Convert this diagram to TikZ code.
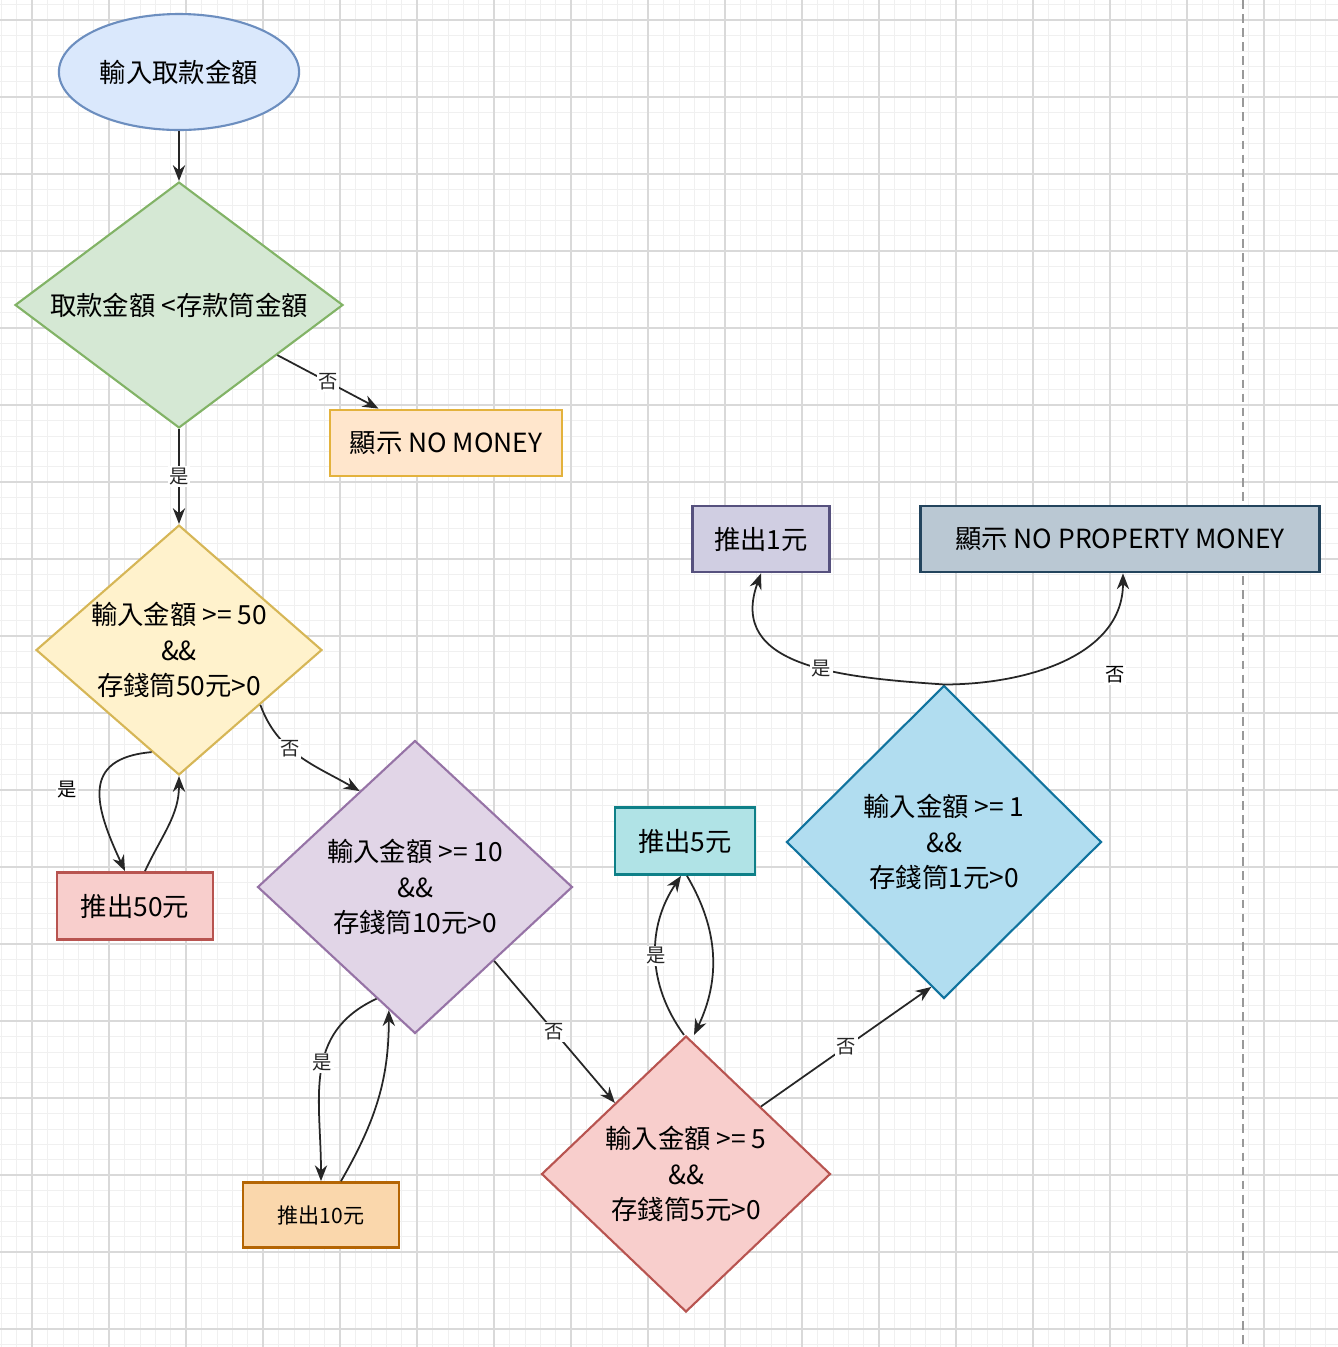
\documentclass[tikz,border=0pt]{standalone}
\usepackage{fontspec}
\setmainfont{Noto Sans CJK TC}
\usetikzlibrary{arrows.meta, positioning, shapes.geometric}
\definecolor{startfill}{HTML}{DAE8FC}
\definecolor{startline}{HTML}{6C8EBF}
\definecolor{greenfill}{HTML}{D5E8D4}
\definecolor{greenline}{HTML}{82B366}
\definecolor{yellowfill}{HTML}{FFF2CC}
\definecolor{yellowline}{HTML}{D6B656}
\definecolor{peachfill}{HTML}{FFE6CC}
\definecolor{goldline}{HTML}{E3B23C}
\definecolor{redfill}{HTML}{F8CECC}
\definecolor{redline}{HTML}{B85450}
\definecolor{purplefill}{HTML}{E1D5E7}
\definecolor{purpleline}{HTML}{9673A6}
\definecolor{orangefill}{HTML}{FAD7AC}
\definecolor{orangeline}{HTML}{B46504}
\definecolor{tealfill}{HTML}{B0E3E6}
\definecolor{tealline}{HTML}{0E8088}
\definecolor{bluefill}{HTML}{B1DDF0}
\definecolor{blueline}{HTML}{10739E}
\definecolor{lilacfill}{HTML}{D0CEE2}
\definecolor{lilacline}{HTML}{56517E}
\definecolor{slatefill}{HTML}{BAC8D3}
\definecolor{slateline}{HTML}{23445D}

\begin{document}
\begin{tikzpicture}[x=0.02cm, y=-0.02cm, >={Stealth[length=9pt, width=7pt]},
    procbox/.style={draw, rectangle, line width=1.6pt, font=\fontsize{15}{20}\selectfont},
    decision/.style={draw, diamond, line width=1.2pt, inner sep=0pt},
    dtext/.style={align=center, font=\fontsize{15}{20}\selectfont},
    conn/.style={->, line width=1pt, black!85},
    lbl/.style={fill=white, inner sep=1pt, font=\fontsize{11}{13}\selectfont}]
    % Canvas and grid
    \useasboundingbox (0,0) rectangle (1338,1347);
    \fill[white] (0,0) rectangle (1338,1347);
    \foreach \i in {-2,...,85}
        \draw[black!6, line width=0.3pt] ({32+15.4*\i},0) -- ++(0,1347);
    \foreach \j in {-1,...,86}
        \draw[black!6, line width=0.3pt] (0,{20+15.4*\j}) -- ++(1338,0);
    \foreach \i in {0,...,16}
        \draw[black!15, line width=0.6pt] ({32+77*\i},0) -- ++(0,1347);
    \foreach \j in {0,...,17}
        \draw[black!15, line width=0.6pt] (0,{20+77*\j}) -- ++(1338,0);
    \draw[black!40, line width=1pt, dash pattern=on 5pt off 3pt] (1243,0) -- (1243,1347);

    % Start and first check
    \node[ellipse, draw=startline, fill=startfill, line width=1.2pt, minimum width=3.88cm,
        minimum height=2.32cm, font=\fontsize{15}{20}\selectfont] (start) at (179,72) {輸入取款金額};
    \node[decision, draw=greenline, fill=greenfill, minimum width=6.56cm, minimum height=4.92cm] (d0) at (179,305) {};
    \node[dtext] (d0t) at (d0) {取款金額 <存款筒金額};
    \node[procbox, draw=goldline, fill=peachfill, minimum width=4.64cm, minimum height=1.32cm] (nomoney) at (446,443) {顯示 NO MONEY};

    % Coin checks
    \node[decision, draw=yellowline, fill=yellowfill, minimum width=5.72cm, minimum height=5cm] (d50) at (179,650) {};
    \node[dtext] (d50t) at (d50) {輸入金額 >= 50\\\&\&\\存錢筒50元>0};
    \node[procbox, draw=redline, fill=redfill, minimum width=3.12cm, minimum height=1.34cm] (out50) at (135,906) {推出50元};

    \node[decision, draw=purpleline, fill=purplefill, minimum width=6.3cm, minimum height=5.86cm] (d10) at (415,887) {};
    \node[dtext] (d10t) at (d10) {輸入金額 >= 10\\\&\&\\存錢筒10元>0};
    \node[procbox, draw=orangeline, fill=orangefill, minimum width=3.12cm, minimum height=1.3cm,
        font=\fontsize{12}{15}\selectfont] (out10) at (321,1215) {推出10元};

    \node[decision, draw=redline, fill=redfill, minimum width=5.78cm, minimum height=5.52cm] (d5) at (686,1174) {};
    \node[dtext] (d5t) at (d5) {輸入金額 >= 5\\\&\&\\存錢筒5元>0};
    \node[procbox, draw=tealline, fill=tealfill, minimum width=2.8cm, minimum height=1.34cm] (out5) at (685,841) {推出5元};

    \node[decision, draw=blueline, fill=bluefill, minimum width=6.3cm, minimum height=6.26cm] (d1) at (944,842) {};
    \node[dtext] (d1t) at (d1) {輸入金額 >= 1\\\&\&\\存錢筒1元>0};
    \node[procbox, draw=lilacline, fill=lilacfill, minimum width=2.74cm, minimum height=1.32cm] (out1) at (761,539) {推出1元};
    \node[procbox, draw=slateline, fill=slatefill, minimum width=7.98cm, minimum height=1.32cm] (noprop) at (1120,539) {顯示 NO PROPERTY MONEY};

    % Connectors
    \draw[conn] (start.south) -- (d0.north);
    \draw[conn] (d0.-27) -- node[lbl] (n0) {否} (nomoney.153);
    \draw[conn] (d0.south) -- node[lbl] (y0) {是} (d50.north);

    \draw[conn] (d50.-105) to[out=185, in=115, looseness=1.5] ([xshift=-0.2cm]out50.north);
    \node[lbl] (y50) at (67,790) {是};
    \draw[conn] ([xshift=0.2cm]out50.north) to[out=65, in=-90] (d50.south);
    \draw[conn] (d50.-34) to[out=-70, in=150] node[lbl, pos=0.4] (n50) {否} (d10.120);

    \draw[conn] (d10.-109) to[out=205, in=90, looseness=1.1] node[lbl, pos=0.45] (y10) {是} (out10.north);
    \draw[conn] ([xshift=0.4cm]out10.north) to[out=60, in=-90] (d10.-102);
    \draw[conn] (d10.-43) -- node[lbl] (n10) {否} (d5.135);

    \draw[conn] ([xshift=-0.04cm]d5.north) to[bend left=35] node[lbl] (y5) {是} ([xshift=-0.08cm]out5.south);
    \draw[conn] ([xshift=0.04cm]out5.south) to[bend left=28] ([xshift=0.16cm]d5.north);
    \draw[conn] (d5.42) -- node[lbl] (n5) {否} (d1.-95);

    \draw[conn] (d1.north) to[out=176, in=-110, looseness=1.2] node[lbl, pos=0.42] (y1) {是} (out1.south);
    \draw[conn] (d1.north) to[out=0, in=-90] ([xshift=0.06cm]noprop.south);
    \node[lbl] (n1) at (1115,675) {否};
\end{tikzpicture}
\end{document}
